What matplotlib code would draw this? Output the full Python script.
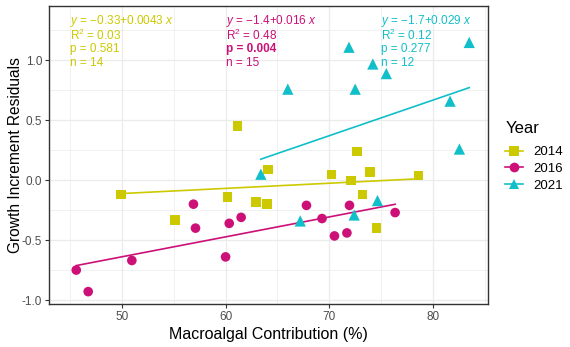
import numpy as np
import matplotlib
matplotlib.use("Agg")
import matplotlib.pyplot as plt
from matplotlib.lines import Line2D

plt.rcParams['font.family'] = ['Liberation Sans', 'DejaVu Sans']
plt.rcParams['mathtext.fontset'] = 'custom'
plt.rcParams['mathtext.rm'] = 'Liberation Sans'
plt.rcParams['mathtext.it'] = 'Liberation Sans:italic'
plt.rcParams['mathtext.bf'] = 'Liberation Sans:bold'

years = ['2014', '2016', '2021']
colors = ['#CDC900', '#CC1077', '#10BFC9']
markers = ['s', 'o', '^']

x_2014 = [49.9, 55.1, 60.2, 61.15, 62.95, 64.0, 64.1, 70.2, 72.1, 72.7, 73.95, 73.2, 74.55, 78.6]
y_2014 = [-0.12, -0.33, -0.14, 0.45, -0.18, -0.20, 0.09, 0.047, -0.003, 0.24, 0.07, -0.12, -0.40, 0.04]

x_2016 = [45.6, 46.75, 50.96, 56.9, 57.1, 60.0, 60.35, 61.5, 67.8, 69.3, 70.5, 71.7, 71.95, 76.35]
y_2016 = [-0.75, -0.93, -0.67, -0.20, -0.40, -0.64, -0.36, -0.31, -0.21, -0.32, -0.465, -0.44, -0.21, -0.27]

x_2021 = [63.4, 66.0, 67.2, 71.9, 72.5, 72.4, 74.2, 75.5, 74.65, 81.65, 82.55, 83.5]
y_2021 = [0.05, 0.76, -0.34, 1.11, 0.76, -0.29, 0.97, 0.89, -0.17, 0.66, 0.26, 1.15]

eq_labels = [r'$y$ = $-$0.33+0.0043 $x$', r'$y$ = $-$1.4+0.016 $x$', r'$y$ = $-$1.7+0.029 $x$']
r2_labels = ['R$^2$ = 0.03', 'R$^2$ = 0.48', 'R$^2$ = 0.12']
p_labels = ['p = 0.581', 'p = 0.004', 'p = 0.277']
n_labels = ['n = 14', 'n = 15', 'n = 12']
label_x = [44.95, 60.0, 74.97]

xs = [x_2014, x_2016, x_2021]
ys = [y_2014, y_2016, y_2021]

fig = plt.figure(figsize=(5.7, 3.47), dpi=100)
ax = fig.add_axes([0.0865, 0.124, 0.7695, 0.859])

for i in range(3):
    x = np.array(xs[i])
    y = np.array(ys[i])
    slope, icpt = np.polyfit(x, y, 1)
    xl = np.array([x.min(), x.max()])
    ax.plot(xl, icpt + slope * xl, color=colors[i], lw=1.2, zorder=2)
    ms = 48 if markers[i] != '^' else 66
    ax.scatter(x, y, marker=markers[i], s=ms, color=colors[i], edgecolors='none', zorder=3)

# fit statistics, one text block per year
line_y = [1.33, 1.212, 1.098, 0.975]
for i in range(3):
    rows = [eq_labels[i], r2_labels[i], p_labels[i], n_labels[i]]
    for j, txt in enumerate(rows):
        ax.text(label_x[i], line_y[j], txt, color=colors[i], fontsize=8.5, va='center', ha='left',
                fontweight='bold' if (j == 2 and i == 1) else 'normal')

ax.set_xlim(43.0, 85.3)
ax.set_ylim(-1.033, 1.455)
ax.set_xticks([50, 60, 70, 80])
ax.set_yticks([-1.0, -0.5, 0.0, 0.5, 1.0])
ax.set_yticklabels(['-1.0', '-0.5', '0.0', '0.5', '1.0'])
ax.set_xticks([45, 55, 65, 75, 85], minor=True)
ax.set_yticks([-0.75, -0.25, 0.25, 0.75, 1.25], minor=True)
ax.grid(which='major', color='#EBEBEB', lw=0.9)
ax.grid(which='minor', color='#EBEBEB', lw=0.5)
ax.set_axisbelow(True)
for s in ax.spines.values():
    s.set_color('#333333')
    s.set_linewidth(1.0)
ax.tick_params(which='major', colors='#333333', labelcolor='#4D4D4D', labelsize=8.5, length=3, width=0.8, pad=2)
ax.tick_params(which='minor', length=0)
ax.set_xlabel('Macroalgal Contribution (%)', fontsize=11.5, labelpad=3)
ax.set_ylabel('Growth Increment Residuals', fontsize=11.2, va='center')
ax.yaxis.set_label_coords(-0.077, 0.5)

handles = [Line2D([0], [0], color=colors[i], marker=markers[i], markersize=7, lw=1.2,
                  markeredgewidth=0) for i in range(3)]
leg = fig.legend(handles, years, title='Year', loc='upper left', bbox_to_anchor=(0.866, 0.685),
                 frameon=False, fontsize=9.5, title_fontsize=12, handlelength=1.3, handletextpad=0.8,
                 labelspacing=0.35)
leg._legend_box.align = 'left'
leg._legend_box.sep = 7

fig.savefig('out.png', dpi=100)
